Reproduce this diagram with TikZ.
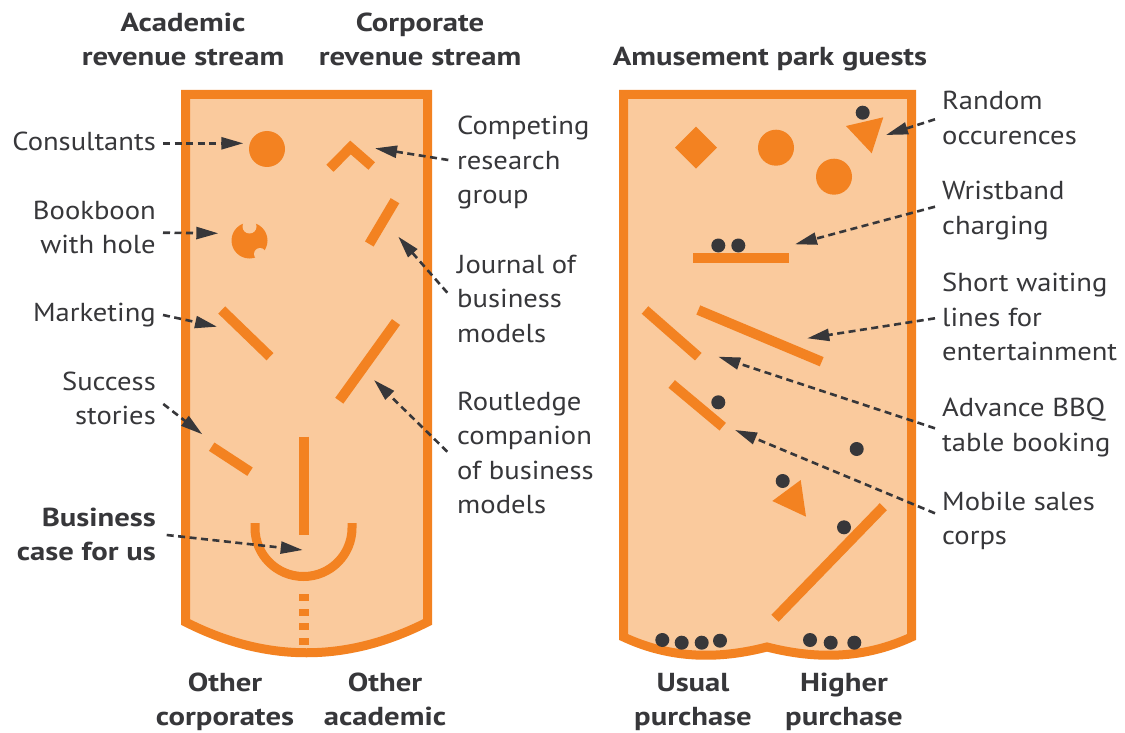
\documentclass[tikz,border=0pt]{standalone}
\usepackage{fontspec}
\setmainfont{PT Sans}[FakeStretch=1.1, BoldFeatures={FakeStretch=1.18}]
\usetikzlibrary{arrows.meta}
\definecolor{orng}{RGB}{243,130,33}
\definecolor{peach}{RGB}{250,202,157}
\definecolor{ink}{RGB}{55,55,58}
\newcommand\TR[1]{\begin{tabular}[t]{@{}r@{}}#1\end{tabular}}
\newcommand\TL[1]{\begin{tabular}[t]{@{}l@{}}#1\end{tabular}}
\newcommand\TC[1]{\begin{tabular}[t]{@{}c@{}}#1\end{tabular}}
\begin{document}
\begin{tikzpicture}[x=1pt,y=-1pt,
 lbl/.style={inner sep=0pt, text=ink, font=\fontsize{26}{34.5}\selectfont},
 ttl/.style={inner sep=0pt, text=ink, font=\fontsize{26}{34}\selectfont\bfseries},
 panel/.style={draw=orng, fill=peach, line width=9pt, line join=miter},
 bar/.style={draw=orng, line width=10pt},
 ball/.style={circle, fill=orng, inner sep=0pt, minimum size=36pt},
 dot/.style={circle, fill=ink, inner sep=0pt, minimum size=14pt},
 link/.style={draw=ink, line width=2.6pt, dash pattern=on 7pt off 4.5pt, -{Triangle[length=22pt,width=12pt]}}
]
\useasboundingbox (0,0) rectangle (1125,733);
\fill[white] (0,0) rectangle (1125,733);

% ---------- panels ----------
\draw[panel] (185.5,622) -- (185.5,94.5) -- (427.5,94.5) -- (427.5,622)
  .. controls (346.8,663) and (266.2,663) .. (185.5,622) -- cycle;
\draw[panel] (623.5,637) -- (623.5,94.5) -- (911.5,94.5) -- (911.5,637)
  .. controls (863.3,659.3) and (815.2,659.3) .. (767,647)
  .. controls (719.2,659.3) and (671.3,659.3) .. (623.5,637) -- cycle;

% ---------- left panel objects ----------
\node[ball] (consultc) at (267,149) {};
\node[ball] (bookc) at (249.5,240.5) {};
\fill[peach] (249.5,226.5) circle (7);
\fill[peach] (260,254) circle (6);
\draw[bar] (330,168.3) -- (350.5,147.5) -- (371.7,166);
\draw[bar] (395,200.7) -- (369.3,244);
\draw[bar] (221.7,310) -- (270,356.7);
\draw[bar] (396,322) -- (339.3,400.7);
\draw[bar] (211.7,446.7) -- (250,471.7);
\draw[bar] (303.5,436.7) -- (303.5,535);
\draw[draw=orng, line width=9pt] (255,523) -- (255,528)
  .. controls (255,554.8) and (276.7,576.5) .. (303.5,576.5)
  .. controls (330.3,576.5) and (352,554.8) .. (352,528) -- (352,523);
\foreach \yy in {594,609,623,638}{\fill[orng] (299,\yy) rectangle (308.5,\yy+6.5);}

% ---------- right panel objects ----------
\fill[orng] (696,126.7) -- (717,147.7) -- (696,168.7) -- (675,147.7) -- cycle;
\node[ball] (ballA) at (776,147.7) {};
\node[ball] (ballB) at (834,176.7) {};
\node[dot] (d1) at (862.7,112.7) {};
\fill[orng] (846,126) -- (883.3,117.3) -- (871.7,153.3) -- cycle;
\node[dot] (d2) at (718.3,245.5) {};
\node[dot] (d3) at (738.3,245.5) {};
\draw[bar] (693.3,258.3) -- (789,258.3);
\draw[bar] (645,310) -- (698.3,356.7);
\draw[bar] (698.3,310) -- (821.7,361.7);
\draw[bar] (671.7,384) -- (722.7,426.7);
\node[dot] (d4) at (718.3,402.3) {};
\node[dot] (d5) at (856.7,449) {};
\node[dot] (d6) at (782.7,481) {};
\fill[orng] (772.3,501) -- (800.7,480) -- (806,516.7) -- cycle;
\node[dot] (d7) at (844,527.3) {};
\draw[bar] (883.3,506.7) -- (775,618.3);
\node[dot] (b1) at (662.3,640) {};
\node[dot] (b2) at (681.7,642.7) {};
\node[dot] (b3) at (701.7,642.7) {};
\node[dot] (b4) at (720,640.7) {};
\node[dot] (b5) at (810,640) {};
\node[dot] (b6) at (830.7,642.7) {};
\node[dot] (b7) at (854.3,642.7) {};

% ---------- titles ----------
\node[ttl, anchor=base] (tAcad) at (183,32) {\TC{Academic\\revenue stream}};
\node[ttl, anchor=base] (tCorp) at (420,32) {\TC{Corporate\\revenue stream}};
\node[ttl, anchor=base] (tPark) at (770,66) {Amusement park guests};
\node[ttl, anchor=base] (bOC) at (225,691.7) {\TC{Other\\corporates}};
\node[ttl, anchor=base] (bOA) at (385,691.7) {\TC{Other\\academic}};
\node[ttl, anchor=base] (bUP) at (693,691.7) {\TC{Usual\\purchase}};
\node[ttl, anchor=base] (bHP) at (844,691.7) {\TC{Higher\\purchase}};

% ---------- labels ----------
\node[lbl, anchor=base east] (lCons) at (156,150.7) {Consultants};
\node[lbl, anchor=base east] (lBook) at (156,219) {\TR{Bookboon\\with hole}};
\node[lbl, anchor=base east] (lMark) at (156,321.7) {Marketing};
\node[lbl, anchor=base east] (lSucc) at (156,390) {\TR{Success\\stories}};
\node[ttl, anchor=base east] (lBus) at (156,526.7) {\TR{Business\\case for us}};
\node[lbl, anchor=base west] (lComp) at (457,135) {\TL{Competing\\research\\group}};
\node[lbl, anchor=base west] (lJour) at (457,273.3) {\TL{Journal of\\business\\models}};
\node[lbl, anchor=base west] (lRout) at (457,410) {\TL{Routledge\\companion\\of business\\models}};
\node[lbl, anchor=base west] (lRand) at (942,110) {\TL{Random\\occurences}};
\node[lbl, anchor=base west] (lWris) at (942,200) {\TL{Wristband\\charging}};
\node[lbl, anchor=base west] (lShor) at (942,291.7) {\TL{Short waiting\\lines for\\entertainment}};
\node[lbl, anchor=base west] (lAdva) at (942,416.7) {\TL{Advance BBQ\\table booking}};
\node[lbl, anchor=base west] (lMobi) at (942,510) {\TL{Mobile sales\\corps}};

% ---------- connectors ----------
\coordinate (s1) at (163,143.3);   \coordinate (e1) at (243.3,143.3);
\coordinate (s2) at (163,232.7);   \coordinate (e2) at (218.3,233.3);
\coordinate (s3) at (163,315);     \coordinate (e3) at (217,326.7);
\coordinate (s4) at (163.3,404);   \coordinate (e4) at (202.3,434.3);
\coordinate (s5) at (166.7,535);   \coordinate (e5) at (302.7,550);
\coordinate (s6) at (448.3,160);   \coordinate (e6) at (375,148.3);
\coordinate (s7) at (447.3,292.7); \coordinate (e7) at (398.3,236.7);
\coordinate (s8) at (447.3,451.7); \coordinate (e8) at (374,380);
\coordinate (s9) at (935,119.3);   \coordinate (e9) at (886,135);
\coordinate (s10) at (935,206.7);  \coordinate (e10) at (795,244.3);
\coordinate (s11) at (935,318.3);  \coordinate (e11) at (807.3,338.3);
\coordinate (s12) at (935,428.3);  \coordinate (e12) at (718.3,356.7);
\coordinate (s13) at (935,513.3);  \coordinate (e13) at (735,430);
\foreach \i in {1,...,13}{\draw[link] (s\i) -- (e\i);}
\end{tikzpicture}
\end{document}
